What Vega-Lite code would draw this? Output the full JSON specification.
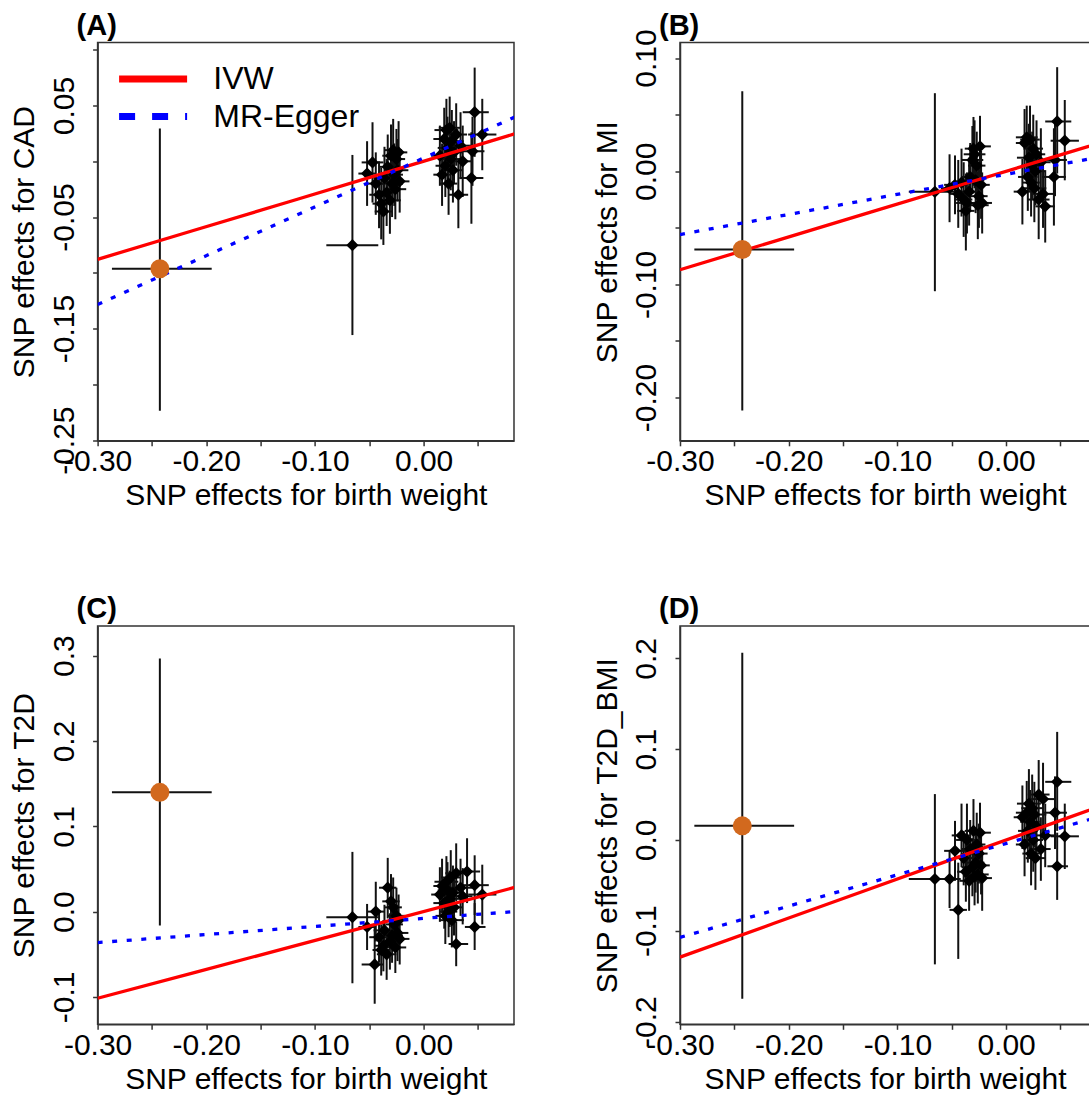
{
  "$schema": "https://vega.github.io/schema/vega-lite/v6.json",
  "padding": {"left": 8.6, "top": 10.5, "right": 0, "bottom": 0},
  "config": {
    "font": "Liberation Sans",
    "view": {"stroke": "#333333", "strokeWidth": 1.5},
    "axis": {"grid": false, "domainColor": "#333333", "domainWidth": 1.5, "tickColor": "#333333", "tickWidth": 1.5, "tickSize": 5, "labelFont": "Liberation Sans", "labelFontSize": 30, "labelColor": "#000000", "titleFont": "Liberation Sans", "titleFontSize": 30, "titleFontWeight": "normal", "titleColor": "#000000", "labelOverlap": false, "labelFlush": false},
    "axisX": {"labelPadding": 1, "titlePadding": 4},
    "axisY": {"labelAngle": -90, "labelAlign": "center", "labelBaseline": "bottom", "labelPadding": 13, "titlePadding": 9.7, "titleBaseline": "bottom"},
    "title": {"anchor": "start", "frame": "group", "fontSize": 29, "fontWeight": "bold", "font": "Liberation Sans", "color": "#000000", "dx": -21, "offset": 1.6, "baseline": "alphabetic"}
  },
  "columns": 2,
  "bounds": "flush",
  "spacing": {"row": 184.5, "column": 165.4},
  "resolve": {"scale": {"color": "independent", "strokeDash": "independent"}},
  "datasets": {
    "A": [
      {"x": -0.0655, "xl": -0.0895, "xh": -0.0417, "y": -0.0752, "yl": -0.1558, "yh": 0.0057, "o": 0},
      {"x": -0.052, "xl": -0.060, "xh": -0.044, "y": -0.011, "yl": -0.040, "yh": 0.018, "o": 0},
      {"x": -0.047, "xl": -0.057, "xh": -0.037, "y": -0.001, "yl": -0.037, "yh": 0.035, "o": 0},
      {"x": -0.044, "xl": -0.052, "xh": -0.036, "y": -0.020, "yl": -0.048, "yh": 0.008, "o": 0},
      {"x": -0.041, "xl": -0.050, "xh": -0.032, "y": -0.030, "yl": -0.060, "yh": 0.000, "o": 0},
      {"x": -0.039, "xl": -0.047, "xh": -0.031, "y": -0.038, "yl": -0.070, "yh": -0.006, "o": 0},
      {"x": -0.037, "xl": -0.045, "xh": -0.029, "y": -0.045, "yl": -0.075, "yh": -0.015, "o": 0},
      {"x": -0.036, "xl": -0.046, "xh": -0.026, "y": -0.015, "yl": -0.043, "yh": 0.013, "o": 0},
      {"x": -0.034, "xl": -0.043, "xh": -0.025, "y": -0.028, "yl": -0.058, "yh": 0.002, "o": 0},
      {"x": -0.033, "xl": -0.041, "xh": -0.025, "y": -0.005, "yl": -0.034, "yh": 0.024, "o": 0},
      {"x": -0.031, "xl": -0.041, "xh": -0.021, "y": -0.035, "yl": -0.065, "yh": -0.005, "o": 0},
      {"x": -0.030, "xl": -0.038, "xh": -0.022, "y": 0.005, "yl": -0.023, "yh": 0.033, "o": 0},
      {"x": -0.029, "xl": -0.039, "xh": -0.019, "y": -0.020, "yl": -0.050, "yh": 0.010, "o": 0},
      {"x": -0.028, "xl": -0.036, "xh": -0.020, "y": 0.010, "yl": -0.018, "yh": 0.038, "o": 0},
      {"x": -0.027, "xl": -0.035, "xh": -0.019, "y": -0.012, "yl": -0.040, "yh": 0.016, "o": 0},
      {"x": -0.026, "xl": -0.036, "xh": -0.016, "y": -0.025, "yl": -0.052, "yh": 0.002, "o": 0},
      {"x": -0.025, "xl": -0.033, "xh": -0.017, "y": 0.002, "yl": -0.025, "yh": 0.029, "o": 0},
      {"x": -0.024, "xl": -0.034, "xh": -0.014, "y": -0.008, "yl": -0.036, "yh": 0.020, "o": 0},
      {"x": -0.023, "xl": -0.031, "xh": -0.015, "y": 0.008, "yl": -0.020, "yh": 0.036, "o": 0},
      {"x": -0.022, "xl": -0.031, "xh": -0.013, "y": -0.018, "yl": -0.046, "yh": 0.010, "o": 0},
      {"x": 0.015, "xl": 0.007, "xh": 0.023, "y": 0.005, "yl": -0.022, "yh": 0.032, "o": 0},
      {"x": 0.017, "xl": 0.009, "xh": 0.025, "y": -0.012, "yl": -0.040, "yh": 0.016, "o": 0},
      {"x": 0.019, "xl": 0.009, "xh": 0.029, "y": 0.020, "yl": -0.008, "yh": 0.048, "o": 0},
      {"x": 0.020, "xl": 0.011, "xh": 0.029, "y": -0.004, "yl": -0.032, "yh": 0.024, "o": 0},
      {"x": 0.021, "xl": 0.010, "xh": 0.032, "y": 0.028, "yl": 0.000, "yh": 0.056, "o": 0},
      {"x": 0.022, "xl": 0.013, "xh": 0.031, "y": 0.012, "yl": -0.016, "yh": 0.040, "o": 0},
      {"x": 0.023, "xl": 0.015, "xh": 0.031, "y": -0.020, "yl": -0.048, "yh": 0.008, "o": 0},
      {"x": 0.024, "xl": 0.014, "xh": 0.034, "y": 0.030, "yl": 0.002, "yh": 0.058, "o": 0},
      {"x": 0.025, "xl": 0.016, "xh": 0.034, "y": 0.002, "yl": -0.026, "yh": 0.030, "o": 0},
      {"x": 0.026, "xl": 0.015, "xh": 0.037, "y": 0.018, "yl": -0.010, "yh": 0.046, "o": 0},
      {"x": 0.027, "xl": 0.018, "xh": 0.036, "y": -0.008, "yl": -0.037, "yh": 0.021, "o": 0},
      {"x": 0.028, "xl": 0.020, "xh": 0.036, "y": 0.008, "yl": -0.020, "yh": 0.036, "o": 0},
      {"x": 0.030, "xl": 0.020, "xh": 0.040, "y": 0.024, "yl": -0.004, "yh": 0.052, "o": 0},
      {"x": 0.032, "xl": 0.023, "xh": 0.041, "y": -0.030, "yl": -0.060, "yh": 0.000, "o": 0},
      {"x": 0.034, "xl": 0.023, "xh": 0.045, "y": 0.014, "yl": -0.016, "yh": 0.044, "o": 0},
      {"x": 0.036, "xl": 0.027, "xh": 0.045, "y": 0.000, "yl": -0.032, "yh": 0.032, "o": 0},
      {"x": 0.045, "xl": 0.034, "xh": 0.056, "y": 0.009, "yl": -0.022, "yh": 0.040, "o": 0},
      {"x": 0.047, "xl": 0.036, "xh": 0.060, "y": 0.044, "yl": 0.004, "yh": 0.084, "o": 0},
      {"x": 0.054, "xl": 0.041, "xh": 0.067, "y": 0.024, "yl": -0.008, "yh": 0.056, "o": 0},
      {"x": 0.044, "xl": 0.033, "xh": 0.055, "y": -0.015, "yl": -0.056, "yh": 0.026, "o": 0},
      {"x": -0.2427, "xl": -0.2868, "xh": -0.195, "y": -0.0964, "yl": -0.2236, "yh": 0.0294, "o": 1}
    ],
    "B": [
      {"x": -0.0655, "xl": -0.0895, "xh": -0.0417, "y": -0.0182, "yl": -0.106, "yh": 0.069, "o": 0},
      {"x": -0.052, "xl": -0.060, "xh": -0.044, "y": -0.015, "yl": -0.045, "yh": 0.015, "o": 0},
      {"x": -0.047, "xl": -0.057, "xh": -0.037, "y": -0.012, "yl": -0.038, "yh": 0.014, "o": 0},
      {"x": -0.044, "xl": -0.052, "xh": -0.036, "y": -0.020, "yl": -0.050, "yh": 0.010, "o": 0},
      {"x": -0.041, "xl": -0.050, "xh": -0.032, "y": -0.010, "yl": -0.040, "yh": 0.020, "o": 0},
      {"x": -0.039, "xl": -0.047, "xh": -0.031, "y": -0.025, "yl": -0.058, "yh": 0.008, "o": 0},
      {"x": -0.037, "xl": -0.045, "xh": -0.029, "y": -0.035, "yl": -0.070, "yh": -0.002, "o": 0},
      {"x": -0.036, "xl": -0.046, "xh": -0.026, "y": -0.028, "yl": -0.055, "yh": -0.001, "o": 0},
      {"x": -0.034, "xl": -0.043, "xh": -0.025, "y": -0.018, "yl": -0.048, "yh": 0.012, "o": 0},
      {"x": -0.033, "xl": -0.041, "xh": -0.025, "y": -0.005, "yl": -0.035, "yh": 0.025, "o": 0},
      {"x": -0.031, "xl": -0.041, "xh": -0.021, "y": 0.010, "yl": -0.020, "yh": 0.040, "o": 0},
      {"x": -0.030, "xl": -0.038, "xh": -0.022, "y": 0.020, "yl": -0.008, "yh": 0.048, "o": 0},
      {"x": -0.029, "xl": -0.039, "xh": -0.019, "y": 0.015, "yl": -0.015, "yh": 0.045, "o": 0},
      {"x": -0.028, "xl": -0.036, "xh": -0.020, "y": -0.008, "yl": -0.037, "yh": 0.021, "o": 0},
      {"x": -0.027, "xl": -0.035, "xh": -0.019, "y": 0.005, "yl": -0.025, "yh": 0.035, "o": 0},
      {"x": -0.026, "xl": -0.036, "xh": -0.016, "y": -0.030, "yl": -0.060, "yh": 0.000, "o": 0},
      {"x": -0.025, "xl": -0.033, "xh": -0.017, "y": -0.022, "yl": -0.050, "yh": 0.006, "o": 0},
      {"x": -0.024, "xl": -0.034, "xh": -0.014, "y": 0.022, "yl": -0.005, "yh": 0.049, "o": 0},
      {"x": -0.023, "xl": -0.031, "xh": -0.015, "y": -0.012, "yl": -0.042, "yh": 0.018, "o": 0},
      {"x": -0.022, "xl": -0.031, "xh": -0.013, "y": -0.028, "yl": -0.055, "yh": -0.001, "o": 0},
      {"x": 0.015, "xl": 0.007, "xh": 0.023, "y": -0.018, "yl": -0.047, "yh": 0.011, "o": 0},
      {"x": 0.017, "xl": 0.009, "xh": 0.025, "y": 0.025, "yl": -0.005, "yh": 0.055, "o": 0},
      {"x": 0.019, "xl": 0.009, "xh": 0.029, "y": 0.030, "yl": 0.002, "yh": 0.058, "o": 0},
      {"x": 0.020, "xl": 0.011, "xh": 0.029, "y": -0.005, "yl": -0.035, "yh": 0.025, "o": 0},
      {"x": 0.021, "xl": 0.010, "xh": 0.032, "y": 0.012, "yl": -0.018, "yh": 0.042, "o": 0},
      {"x": 0.022, "xl": 0.013, "xh": 0.031, "y": 0.028, "yl": -0.002, "yh": 0.058, "o": 0},
      {"x": 0.023, "xl": 0.015, "xh": 0.031, "y": -0.010, "yl": -0.040, "yh": 0.020, "o": 0},
      {"x": 0.024, "xl": 0.014, "xh": 0.034, "y": 0.005, "yl": -0.025, "yh": 0.035, "o": 0},
      {"x": 0.025, "xl": 0.016, "xh": 0.034, "y": 0.020, "yl": -0.010, "yh": 0.050, "o": 0},
      {"x": 0.026, "xl": 0.015, "xh": 0.037, "y": -0.015, "yl": -0.045, "yh": 0.015, "o": 0},
      {"x": 0.027, "xl": 0.018, "xh": 0.036, "y": 0.000, "yl": -0.030, "yh": 0.030, "o": 0},
      {"x": 0.028, "xl": 0.020, "xh": 0.036, "y": 0.015, "yl": -0.015, "yh": 0.045, "o": 0},
      {"x": 0.030, "xl": 0.020, "xh": 0.040, "y": -0.025, "yl": -0.060, "yh": 0.010, "o": 0},
      {"x": 0.032, "xl": 0.023, "xh": 0.041, "y": 0.008, "yl": -0.022, "yh": 0.038, "o": 0},
      {"x": 0.034, "xl": 0.023, "xh": 0.045, "y": -0.020, "yl": -0.050, "yh": 0.010, "o": 0},
      {"x": 0.036, "xl": 0.027, "xh": 0.045, "y": -0.031, "yl": -0.063, "yh": 0.001, "o": 0},
      {"x": 0.045, "xl": 0.034, "xh": 0.056, "y": 0.010, "yl": -0.022, "yh": 0.042, "o": 0},
      {"x": 0.047, "xl": 0.036, "xh": 0.060, "y": 0.044, "yl": -0.002, "yh": 0.092, "o": 0},
      {"x": 0.054, "xl": 0.041, "xh": 0.067, "y": 0.027, "yl": -0.008, "yh": 0.063, "o": 0},
      {"x": 0.044, "xl": 0.033, "xh": 0.055, "y": -0.005, "yl": -0.048, "yh": 0.038, "o": 0},
      {"x": -0.2427, "xl": -0.2868, "xh": -0.195, "y": -0.0692, "yl": -0.2114, "yh": 0.0707, "o": 1}
    ],
    "C": [
      {"x": -0.0655, "xl": -0.0895, "xh": -0.0417, "y": -0.0066, "yl": -0.084, "yh": 0.070, "o": 0},
      {"x": -0.052, "xl": -0.060, "xh": -0.044, "y": -0.018, "yl": -0.045, "yh": 0.009, "o": 0},
      {"x": -0.045, "xl": -0.057, "xh": -0.037, "y": -0.062, "yl": -0.108, "yh": -0.018, "o": 0},
      {"x": -0.044, "xl": -0.052, "xh": -0.036, "y": 0.000, "yl": -0.035, "yh": 0.035, "o": 0},
      {"x": -0.041, "xl": -0.050, "xh": -0.032, "y": -0.030, "yl": -0.060, "yh": 0.000, "o": 0},
      {"x": -0.039, "xl": -0.047, "xh": -0.031, "y": -0.045, "yl": -0.075, "yh": -0.015, "o": 0},
      {"x": -0.037, "xl": -0.045, "xh": -0.029, "y": -0.040, "yl": -0.070, "yh": -0.010, "o": 0},
      {"x": -0.036, "xl": -0.046, "xh": -0.026, "y": -0.022, "yl": -0.052, "yh": 0.008, "o": 0},
      {"x": -0.034, "xl": -0.043, "xh": -0.025, "y": -0.050, "yl": -0.080, "yh": -0.020, "o": 0},
      {"x": -0.033, "xl": -0.041, "xh": -0.025, "y": 0.028, "yl": -0.008, "yh": 0.063, "o": 0},
      {"x": -0.031, "xl": -0.041, "xh": -0.021, "y": -0.035, "yl": -0.068, "yh": -0.002, "o": 0},
      {"x": -0.030, "xl": -0.038, "xh": -0.022, "y": 0.012, "yl": -0.020, "yh": 0.044, "o": 0},
      {"x": -0.029, "xl": -0.039, "xh": -0.019, "y": -0.028, "yl": -0.060, "yh": 0.004, "o": 0},
      {"x": -0.028, "xl": -0.036, "xh": -0.020, "y": 0.005, "yl": -0.030, "yh": 0.040, "o": 0},
      {"x": -0.027, "xl": -0.035, "xh": -0.019, "y": -0.015, "yl": -0.045, "yh": 0.015, "o": 0},
      {"x": -0.026, "xl": -0.036, "xh": -0.016, "y": -0.042, "yl": -0.072, "yh": -0.012, "o": 0},
      {"x": -0.025, "xl": -0.033, "xh": -0.017, "y": -0.005, "yl": -0.038, "yh": 0.028, "o": 0},
      {"x": -0.024, "xl": -0.034, "xh": -0.014, "y": -0.025, "yl": -0.058, "yh": 0.008, "o": 0},
      {"x": -0.023, "xl": -0.031, "xh": -0.015, "y": -0.010, "yl": -0.040, "yh": 0.020, "o": 0},
      {"x": -0.022, "xl": -0.031, "xh": -0.013, "y": -0.032, "yl": -0.062, "yh": -0.002, "o": 0},
      {"x": 0.015, "xl": 0.007, "xh": 0.023, "y": 0.020, "yl": -0.012, "yh": 0.052, "o": 0},
      {"x": 0.017, "xl": 0.009, "xh": 0.025, "y": 0.030, "yl": -0.002, "yh": 0.062, "o": 0},
      {"x": 0.019, "xl": 0.009, "xh": 0.029, "y": 0.010, "yl": -0.020, "yh": 0.040, "o": 0},
      {"x": 0.020, "xl": 0.011, "xh": 0.029, "y": -0.005, "yl": -0.038, "yh": 0.028, "o": 0},
      {"x": 0.021, "xl": 0.010, "xh": 0.032, "y": 0.035, "yl": 0.005, "yh": 0.065, "o": 0},
      {"x": 0.022, "xl": 0.013, "xh": 0.031, "y": 0.025, "yl": -0.008, "yh": 0.058, "o": 0},
      {"x": 0.023, "xl": 0.015, "xh": 0.031, "y": 0.000, "yl": -0.030, "yh": 0.030, "o": 0},
      {"x": 0.024, "xl": 0.014, "xh": 0.034, "y": 0.015, "yl": -0.018, "yh": 0.048, "o": 0},
      {"x": 0.025, "xl": 0.016, "xh": 0.034, "y": 0.040, "yl": 0.008, "yh": 0.072, "o": 0},
      {"x": 0.026, "xl": 0.015, "xh": 0.037, "y": -0.010, "yl": -0.042, "yh": 0.022, "o": 0},
      {"x": 0.027, "xl": 0.018, "xh": 0.036, "y": 0.022, "yl": -0.010, "yh": 0.054, "o": 0},
      {"x": 0.028, "xl": 0.020, "xh": 0.036, "y": 0.005, "yl": -0.028, "yh": 0.038, "o": 0},
      {"x": 0.030, "xl": 0.020, "xh": 0.040, "y": 0.045, "yl": 0.012, "yh": 0.080, "o": 0},
      {"x": 0.030, "xl": 0.023, "xh": 0.041, "y": -0.038, "yl": -0.064, "yh": -0.012, "o": 0},
      {"x": 0.034, "xl": 0.023, "xh": 0.045, "y": 0.028, "yl": -0.005, "yh": 0.062, "o": 0},
      {"x": 0.036, "xl": 0.027, "xh": 0.045, "y": 0.018, "yl": -0.015, "yh": 0.051, "o": 0},
      {"x": 0.040, "xl": 0.030, "xh": 0.052, "y": 0.047, "yl": 0.010, "yh": 0.086, "o": 0},
      {"x": 0.047, "xl": 0.036, "xh": 0.060, "y": 0.031, "yl": -0.004, "yh": 0.066, "o": 0},
      {"x": 0.054, "xl": 0.041, "xh": 0.067, "y": 0.020, "yl": -0.015, "yh": 0.055, "o": 0},
      {"x": 0.047, "xl": 0.038, "xh": 0.057, "y": -0.018, "yl": -0.045, "yh": 0.010, "o": 0},
      {"x": -0.2427, "xl": -0.2868, "xh": -0.195, "y": 0.1398, "yl": -0.0164, "yh": 0.2968, "o": 1}
    ],
    "D": [
      {"x": -0.0655, "xl": -0.0895, "xh": -0.0417, "y": -0.043, "yl": -0.137, "yh": 0.0505, "o": 0},
      {"x": -0.052, "xl": -0.060, "xh": -0.044, "y": -0.043, "yl": -0.075, "yh": -0.011, "o": 0},
      {"x": -0.047, "xl": -0.057, "xh": -0.037, "y": -0.012, "yl": -0.045, "yh": 0.021, "o": 0},
      {"x": -0.044, "xl": -0.052, "xh": -0.036, "y": -0.077, "yl": -0.131, "yh": -0.025, "o": 0},
      {"x": -0.041, "xl": -0.050, "xh": -0.032, "y": 0.005, "yl": -0.030, "yh": 0.040, "o": 0},
      {"x": -0.039, "xl": -0.047, "xh": -0.031, "y": -0.020, "yl": -0.050, "yh": 0.010, "o": 0},
      {"x": -0.037, "xl": -0.045, "xh": -0.029, "y": -0.035, "yl": -0.068, "yh": -0.002, "o": 0},
      {"x": -0.036, "xl": -0.046, "xh": -0.026, "y": 0.000, "yl": -0.040, "yh": 0.040, "o": 0},
      {"x": -0.034, "xl": -0.043, "xh": -0.025, "y": -0.045, "yl": -0.078, "yh": -0.012, "o": 0},
      {"x": -0.033, "xl": -0.041, "xh": -0.025, "y": -0.010, "yl": -0.042, "yh": 0.022, "o": 0},
      {"x": -0.031, "xl": -0.041, "xh": -0.021, "y": -0.030, "yl": -0.062, "yh": 0.002, "o": 0},
      {"x": -0.030, "xl": -0.038, "xh": -0.022, "y": 0.010, "yl": -0.025, "yh": 0.045, "o": 0},
      {"x": -0.029, "xl": -0.039, "xh": -0.019, "y": -0.040, "yl": -0.072, "yh": -0.008, "o": 0},
      {"x": -0.028, "xl": -0.036, "xh": -0.020, "y": -0.025, "yl": -0.058, "yh": 0.008, "o": 0},
      {"x": -0.027, "xl": -0.035, "xh": -0.019, "y": -0.005, "yl": -0.040, "yh": 0.030, "o": 0},
      {"x": -0.026, "xl": -0.036, "xh": -0.016, "y": -0.038, "yl": -0.070, "yh": -0.006, "o": 0},
      {"x": -0.025, "xl": -0.033, "xh": -0.017, "y": -0.015, "yl": -0.048, "yh": 0.018, "o": 0},
      {"x": -0.024, "xl": -0.034, "xh": -0.014, "y": 0.008, "yl": -0.025, "yh": 0.041, "o": 0},
      {"x": -0.023, "xl": -0.031, "xh": -0.015, "y": -0.028, "yl": -0.060, "yh": 0.004, "o": 0},
      {"x": -0.022, "xl": -0.031, "xh": -0.013, "y": -0.042, "yl": -0.078, "yh": -0.006, "o": 0},
      {"x": 0.015, "xl": 0.007, "xh": 0.023, "y": 0.025, "yl": -0.010, "yh": 0.060, "o": 0},
      {"x": 0.017, "xl": 0.009, "xh": 0.025, "y": -0.005, "yl": -0.040, "yh": 0.030, "o": 0},
      {"x": 0.019, "xl": 0.009, "xh": 0.029, "y": 0.030, "yl": -0.005, "yh": 0.065, "o": 0},
      {"x": 0.020, "xl": 0.011, "xh": 0.029, "y": 0.010, "yl": -0.025, "yh": 0.045, "o": 0},
      {"x": 0.021, "xl": 0.010, "xh": 0.032, "y": 0.040, "yl": 0.002, "yh": 0.078, "o": 0},
      {"x": 0.022, "xl": 0.013, "xh": 0.031, "y": 0.020, "yl": -0.015, "yh": 0.055, "o": 0},
      {"x": 0.023, "xl": 0.015, "xh": 0.031, "y": -0.015, "yl": -0.050, "yh": 0.020, "o": 0},
      {"x": 0.024, "xl": 0.014, "xh": 0.034, "y": 0.035, "yl": -0.002, "yh": 0.072, "o": 0},
      {"x": 0.025, "xl": 0.016, "xh": 0.034, "y": 0.000, "yl": -0.035, "yh": 0.035, "o": 0},
      {"x": 0.026, "xl": 0.015, "xh": 0.037, "y": 0.028, "yl": -0.008, "yh": 0.064, "o": 0},
      {"x": 0.027, "xl": 0.018, "xh": 0.036, "y": -0.020, "yl": -0.055, "yh": 0.015, "o": 0},
      {"x": 0.028, "xl": 0.020, "xh": 0.036, "y": 0.015, "yl": -0.020, "yh": 0.050, "o": 0},
      {"x": 0.030, "xl": 0.020, "xh": 0.040, "y": 0.050, "yl": 0.012, "yh": 0.088, "o": 0},
      {"x": 0.032, "xl": 0.023, "xh": 0.041, "y": -0.010, "yl": -0.045, "yh": 0.025, "o": 0},
      {"x": 0.034, "xl": 0.023, "xh": 0.045, "y": 0.045, "yl": 0.005, "yh": 0.085, "o": 0},
      {"x": 0.036, "xl": 0.027, "xh": 0.045, "y": 0.005, "yl": -0.030, "yh": 0.040, "o": 0},
      {"x": 0.045, "xl": 0.034, "xh": 0.056, "y": 0.030, "yl": -0.010, "yh": 0.070, "o": 0},
      {"x": 0.047, "xl": 0.036, "xh": 0.060, "y": 0.064, "yl": 0.010, "yh": 0.119, "o": 0},
      {"x": 0.054, "xl": 0.041, "xh": 0.067, "y": 0.004, "yl": -0.032, "yh": 0.040, "o": 0},
      {"x": 0.047, "xl": 0.038, "xh": 0.057, "y": -0.029, "yl": -0.066, "yh": 0.008, "o": 0},
      {"x": -0.2427, "xl": -0.2868, "xh": -0.195, "y": 0.0155, "yl": -0.1749, "yh": 0.2062, "o": 1}
    ],
    "LA": [
      {"method": "IVW", "x": -0.30, "y": -0.0879},
      {"method": "IVW", "x": 0.09, "y": 0.0264},
      {"method": "MR-Egger", "x": -0.30, "y": -0.1284},
      {"method": "MR-Egger", "x": 0.09, "y": 0.0423}
    ],
    "LB": [
      {"method": "IVW", "x": -0.30, "y": -0.087},
      {"method": "IVW", "x": 0.09, "y": 0.0261},
      {"method": "MR-Egger", "x": -0.30, "y": -0.0559},
      {"method": "MR-Egger", "x": 0.09, "y": 0.0133}
    ],
    "LC": [
      {"method": "IVW", "x": -0.30, "y": -0.1016},
      {"method": "IVW", "x": 0.09, "y": 0.0305},
      {"method": "MR-Egger", "x": -0.30, "y": -0.0363},
      {"method": "MR-Egger", "x": 0.09, "y": 0.0006}
    ],
    "LD": [
      {"method": "IVW", "x": -0.30, "y": -0.129},
      {"method": "IVW", "x": 0.09, "y": 0.0387},
      {"method": "MR-Egger", "x": -0.30, "y": -0.1073},
      {"method": "MR-Egger", "x": 0.09, "y": 0.0271}
    ]
  },
  "concat": [
    {
      "title": {"text": "(A)"},
      "width": 416.4,
      "height": 398.3,
      "resolve": {"scale": {"color": "independent", "strokeDash": "independent"}},
      "layer": [
        {"mark": {"type": "rule", "color": "#E23A8E", "strokeDash": [6, 4], "strokeWidth": 1.5},
         "encoding": {"y": {"datum": 0, "type": "quantitative", "scale": {"domain": [-0.2506, 0.1065], "nice": false, "zero": false}, "axis": {"title": "SNP effects for CAD", "values": [-0.25, -0.2, -0.15, -0.1, -0.05, 0, 0.05, 0.1], "labelExpr": "indexof([5,-5,-15,-25], round(datum.value*100)) >= 0 ? replace(format(datum.value, '.2f'), '\u2212', '-') : ''"}}}},
        {"mark": {"type": "rule", "color": "#E23A8E", "strokeDash": [6, 4], "strokeWidth": 1.5},
         "encoding": {"x": {"datum": 0, "type": "quantitative", "scale": {"domain": [-0.30, 0.0832], "nice": false, "zero": false}, "axis": {"title": "SNP effects for birth weight", "values": [-0.3, -0.25, -0.2, -0.15, -0.1, -0.05, 0, 0.05], "labelExpr": "indexof([-30,-20,-10,0], round(datum.value*100)) >= 0 ? replace(format(datum.value, '.2f'), '\u2212', '-') : ''"}}}},
        {"data": {"name": "A"}, "mark": {"type": "rule", "color": "#111111", "strokeWidth": 2},
         "encoding": {"x": {"field": "xl", "type": "quantitative", "scale": {"domain": [-0.30, 0.0832], "nice": false, "zero": false}, "title": "SNP effects for birth weight"}, "x2": {"field": "xh"}, "y": {"field": "y", "type": "quantitative", "scale": {"domain": [-0.2506, 0.1065], "nice": false, "zero": false}, "title": "SNP effects for CAD"}}},
        {"data": {"name": "A"}, "mark": {"type": "rule", "color": "#111111", "strokeWidth": 2},
         "encoding": {"x": {"field": "x", "type": "quantitative", "scale": {"domain": [-0.30, 0.0832], "nice": false, "zero": false}, "title": "SNP effects for birth weight"}, "y": {"field": "yl", "type": "quantitative", "scale": {"domain": [-0.2506, 0.1065], "nice": false, "zero": false}, "title": "SNP effects for CAD"}, "y2": {"field": "yh"}}},
        {"data": {"name": "A"}, "transform": [{"filter": "datum.o == 0"}], "mark": {"type": "point", "shape": "diamond", "filled": true, "color": "#000000", "size": 150, "opacity": 1},
         "encoding": {"x": {"field": "x", "type": "quantitative", "scale": {"domain": [-0.30, 0.0832], "nice": false, "zero": false}, "title": "SNP effects for birth weight"}, "y": {"field": "y", "type": "quantitative", "scale": {"domain": [-0.2506, 0.1065], "nice": false, "zero": false}, "title": "SNP effects for CAD"}}},
        {"data": {"name": "LA"}, "mark": {"type": "line", "strokeWidth": 3.3, "clip": true},
         "encoding": {"x": {"field": "x", "type": "quantitative", "scale": {"domain": [-0.30, 0.0832], "nice": false, "zero": false}, "title": "SNP effects for birth weight"}, "y": {"field": "y", "type": "quantitative", "scale": {"domain": [-0.2506, 0.1065], "nice": false, "zero": false}, "title": "SNP effects for CAD"},
           "color": {"field": "method", "type": "nominal", "scale": {"domain": ["IVW", "MR-Egger"], "range": ["#FF0000", "#0000FF"]}, "legend": null},
           "strokeDash": {"field": "method", "type": "nominal", "scale": {"domain": ["IVW", "MR-Egger"], "range": [[100, 0], [5, 9.6]]}, "legend": null}}},
        {"data": {"name": "LA"}, "mark": {"type": "line", "strokeWidth": 3.3, "clip": true, "opacity": 0},
         "encoding": {"x": {"field": "x", "type": "quantitative", "scale": {"domain": [-0.30, 0.0832], "nice": false, "zero": false}, "title": "SNP effects for birth weight"}, "y": {"field": "y", "type": "quantitative", "scale": {"domain": [-0.2506, 0.1065], "nice": false, "zero": false}, "title": "SNP effects for CAD"},
           "color": {"field": "method", "type": "nominal", "scale": {"domain": ["IVW", "MR-Egger"], "range": ["#FF0000", "#0000FF"]},
             "legend": {"title": null, "orient": "none", "legendX": 35, "legendY": 16.1, "direction": "vertical", "symbolType": "M-2,0H2", "symbolSize": 1156, "symbolStrokeWidth": 7, "symbolOpacity": 1, "labelFont": "Liberation Sans", "labelFontSize": 32, "labelColor": "#000000", "labelOffset": 39.7, "rowPadding": 0.5}},
           "strokeDash": {"field": "method", "type": "nominal", "scale": {"domain": ["IVW", "MR-Egger"], "range": [[100, 0], [16, 17]]},
             "legend": {"title": null, "orient": "none", "legendX": 35, "legendY": 16.1, "direction": "vertical", "symbolType": "M-2,0H2", "symbolSize": 1156, "symbolStrokeWidth": 7, "symbolOpacity": 1, "labelFont": "Liberation Sans", "labelFontSize": 32, "labelColor": "#000000", "labelOffset": 39.7, "rowPadding": 0.5}}}},
        {"data": {"name": "A"}, "transform": [{"filter": "datum.o == 1"}], "mark": {"type": "point", "shape": "circle", "filled": true, "color": "#D2691E", "size": 361, "opacity": 1},
         "encoding": {"x": {"field": "x", "type": "quantitative", "scale": {"domain": [-0.30, 0.0832], "nice": false, "zero": false}, "title": "SNP effects for birth weight"}, "y": {"field": "y", "type": "quantitative", "scale": {"domain": [-0.2506, 0.1065], "nice": false, "zero": false}, "title": "SNP effects for CAD"}}}
      ]
    },
    {
      "title": {"text": "(B)", "dy": 14},
      "width": 410,
      "height": 398.3,
      "layer": [
        {"mark": {"type": "rule", "color": "#E23A8E", "strokeDash": [6, 4], "strokeWidth": 1.5},
         "encoding": {"y": {"datum": 0, "type": "quantitative", "scale": {"domain": [-0.2382, 0.1138], "nice": false, "zero": false}, "axis": {"title": "SNP effects for MI", "values": [-0.2, -0.15, -0.1, -0.05, 0, 0.05, 0.1], "labelExpr": "indexof([10,0,-10,-20], round(datum.value*100)) >= 0 ? replace(format(datum.value, '.2f'), '\u2212', '-') : ''"}}}},
        {"mark": {"type": "rule", "color": "#E23A8E", "strokeDash": [6, 4], "strokeWidth": 1.5},
         "encoding": {"x": {"datum": 0, "type": "quantitative", "scale": {"domain": [-0.30, 0.0772], "nice": false, "zero": false}, "axis": {"title": "SNP effects for birth weight", "values": [-0.3, -0.25, -0.2, -0.15, -0.1, -0.05, 0, 0.05], "labelExpr": "indexof([-30,-20,-10,0], round(datum.value*100)) >= 0 ? replace(format(datum.value, '.2f'), '\u2212', '-') : ''"}}}},
        {"data": {"name": "B"}, "mark": {"type": "rule", "color": "#111111", "strokeWidth": 2},
         "encoding": {"x": {"field": "xl", "type": "quantitative", "scale": {"domain": [-0.30, 0.0772], "nice": false, "zero": false}, "title": "SNP effects for birth weight"}, "x2": {"field": "xh"}, "y": {"field": "y", "type": "quantitative", "scale": {"domain": [-0.2382, 0.1138], "nice": false, "zero": false}, "title": "SNP effects for MI"}}},
        {"data": {"name": "B"}, "mark": {"type": "rule", "color": "#111111", "strokeWidth": 2},
         "encoding": {"x": {"field": "x", "type": "quantitative", "scale": {"domain": [-0.30, 0.0772], "nice": false, "zero": false}, "title": "SNP effects for birth weight"}, "y": {"field": "yl", "type": "quantitative", "scale": {"domain": [-0.2382, 0.1138], "nice": false, "zero": false}, "title": "SNP effects for MI"}, "y2": {"field": "yh"}}},
        {"data": {"name": "B"}, "transform": [{"filter": "datum.o == 0"}], "mark": {"type": "point", "shape": "diamond", "filled": true, "color": "#000000", "size": 150, "opacity": 1},
         "encoding": {"x": {"field": "x", "type": "quantitative", "scale": {"domain": [-0.30, 0.0772], "nice": false, "zero": false}, "title": "SNP effects for birth weight"}, "y": {"field": "y", "type": "quantitative", "scale": {"domain": [-0.2382, 0.1138], "nice": false, "zero": false}, "title": "SNP effects for MI"}}},
        {"data": {"name": "LB"}, "mark": {"type": "line", "strokeWidth": 3.3, "clip": true},
         "encoding": {"x": {"field": "x", "type": "quantitative", "scale": {"domain": [-0.30, 0.0772], "nice": false, "zero": false}, "title": "SNP effects for birth weight"}, "y": {"field": "y", "type": "quantitative", "scale": {"domain": [-0.2382, 0.1138], "nice": false, "zero": false}, "title": "SNP effects for MI"},
           "color": {"field": "method", "type": "nominal", "scale": {"domain": ["IVW", "MR-Egger"], "range": ["#FF0000", "#0000FF"]}, "legend": null},
           "strokeDash": {"field": "method", "type": "nominal", "scale": {"domain": ["IVW", "MR-Egger"], "range": [[100, 0], [5, 9.6]]}, "legend": null}}},
        {"data": {"name": "B"}, "transform": [{"filter": "datum.o == 1"}], "mark": {"type": "point", "shape": "circle", "filled": true, "color": "#D2691E", "size": 361, "opacity": 1},
         "encoding": {"x": {"field": "x", "type": "quantitative", "scale": {"domain": [-0.30, 0.0772], "nice": false, "zero": false}, "title": "SNP effects for birth weight"}, "y": {"field": "y", "type": "quantitative", "scale": {"domain": [-0.2382, 0.1138], "nice": false, "zero": false}, "title": "SNP effects for MI"}}}
      ]
    },
    {
      "title": {"text": "(C)"},
      "width": 416.4,
      "height": 398.3,
      "layer": [
        {"mark": {"type": "rule", "color": "#E23A8E", "strokeDash": [6, 4], "strokeWidth": 1.5},
         "encoding": {"y": {"datum": 0, "type": "quantitative", "scale": {"domain": [-0.1321, 0.3348], "nice": false, "zero": false}, "axis": {"title": "SNP effects for T2D", "values": [-0.1, 0, 0.1, 0.2, 0.3], "labelExpr": "replace(format(datum.value, '.1f'), '\u2212', '-')"}}}},
        {"mark": {"type": "rule", "color": "#E23A8E", "strokeDash": [6, 4], "strokeWidth": 1.5},
         "encoding": {"x": {"datum": 0, "type": "quantitative", "scale": {"domain": [-0.30, 0.0832], "nice": false, "zero": false}, "axis": {"title": "SNP effects for birth weight", "values": [-0.3, -0.25, -0.2, -0.15, -0.1, -0.05, 0, 0.05], "labelExpr": "indexof([-30,-20,-10,0], round(datum.value*100)) >= 0 ? replace(format(datum.value, '.2f'), '\u2212', '-') : ''"}}}},
        {"data": {"name": "C"}, "mark": {"type": "rule", "color": "#111111", "strokeWidth": 2},
         "encoding": {"x": {"field": "xl", "type": "quantitative", "scale": {"domain": [-0.30, 0.0832], "nice": false, "zero": false}, "title": "SNP effects for birth weight"}, "x2": {"field": "xh"}, "y": {"field": "y", "type": "quantitative", "scale": {"domain": [-0.1321, 0.3348], "nice": false, "zero": false}, "title": "SNP effects for T2D"}}},
        {"data": {"name": "C"}, "mark": {"type": "rule", "color": "#111111", "strokeWidth": 2},
         "encoding": {"x": {"field": "x", "type": "quantitative", "scale": {"domain": [-0.30, 0.0832], "nice": false, "zero": false}, "title": "SNP effects for birth weight"}, "y": {"field": "yl", "type": "quantitative", "scale": {"domain": [-0.1321, 0.3348], "nice": false, "zero": false}, "title": "SNP effects for T2D"}, "y2": {"field": "yh"}}},
        {"data": {"name": "C"}, "transform": [{"filter": "datum.o == 0"}], "mark": {"type": "point", "shape": "diamond", "filled": true, "color": "#000000", "size": 150, "opacity": 1},
         "encoding": {"x": {"field": "x", "type": "quantitative", "scale": {"domain": [-0.30, 0.0832], "nice": false, "zero": false}, "title": "SNP effects for birth weight"}, "y": {"field": "y", "type": "quantitative", "scale": {"domain": [-0.1321, 0.3348], "nice": false, "zero": false}, "title": "SNP effects for T2D"}}},
        {"data": {"name": "LC"}, "mark": {"type": "line", "strokeWidth": 3.3, "clip": true},
         "encoding": {"x": {"field": "x", "type": "quantitative", "scale": {"domain": [-0.30, 0.0832], "nice": false, "zero": false}, "title": "SNP effects for birth weight"}, "y": {"field": "y", "type": "quantitative", "scale": {"domain": [-0.1321, 0.3348], "nice": false, "zero": false}, "title": "SNP effects for T2D"},
           "color": {"field": "method", "type": "nominal", "scale": {"domain": ["IVW", "MR-Egger"], "range": ["#FF0000", "#0000FF"]}, "legend": null},
           "strokeDash": {"field": "method", "type": "nominal", "scale": {"domain": ["IVW", "MR-Egger"], "range": [[100, 0], [5, 9.6]]}, "legend": null}}},
        {"data": {"name": "C"}, "transform": [{"filter": "datum.o == 1"}], "mark": {"type": "point", "shape": "circle", "filled": true, "color": "#D2691E", "size": 361, "opacity": 1},
         "encoding": {"x": {"field": "x", "type": "quantitative", "scale": {"domain": [-0.30, 0.0832], "nice": false, "zero": false}, "title": "SNP effects for birth weight"}, "y": {"field": "y", "type": "quantitative", "scale": {"domain": [-0.1321, 0.3348], "nice": false, "zero": false}, "title": "SNP effects for T2D"}}}
      ]
    },
    {
      "title": {"text": "(D)"},
      "width": 410,
      "height": 398.3,
      "layer": [
        {"mark": {"type": "rule", "color": "#E23A8E", "strokeDash": [6, 4], "strokeWidth": 1.5},
         "encoding": {"y": {"datum": 0, "type": "quantitative", "scale": {"domain": [-0.203, 0.2356], "nice": false, "zero": false}, "axis": {"title": "SNP effects for T2D_BMI", "values": [-0.2, -0.1, 0, 0.1, 0.2], "labelExpr": "replace(format(datum.value, '.1f'), '\u2212', '-')"}}}},
        {"mark": {"type": "rule", "color": "#E23A8E", "strokeDash": [6, 4], "strokeWidth": 1.5},
         "encoding": {"x": {"datum": 0, "type": "quantitative", "scale": {"domain": [-0.30, 0.0772], "nice": false, "zero": false}, "axis": {"title": "SNP effects for birth weight", "values": [-0.3, -0.25, -0.2, -0.15, -0.1, -0.05, 0, 0.05], "labelExpr": "indexof([-30,-20,-10,0], round(datum.value*100)) >= 0 ? replace(format(datum.value, '.2f'), '\u2212', '-') : ''"}}}},
        {"data": {"name": "D"}, "mark": {"type": "rule", "color": "#111111", "strokeWidth": 2},
         "encoding": {"x": {"field": "xl", "type": "quantitative", "scale": {"domain": [-0.30, 0.0772], "nice": false, "zero": false}, "title": "SNP effects for birth weight"}, "x2": {"field": "xh"}, "y": {"field": "y", "type": "quantitative", "scale": {"domain": [-0.203, 0.2356], "nice": false, "zero": false}, "title": "SNP effects for T2D_BMI"}}},
        {"data": {"name": "D"}, "mark": {"type": "rule", "color": "#111111", "strokeWidth": 2},
         "encoding": {"x": {"field": "x", "type": "quantitative", "scale": {"domain": [-0.30, 0.0772], "nice": false, "zero": false}, "title": "SNP effects for birth weight"}, "y": {"field": "yl", "type": "quantitative", "scale": {"domain": [-0.203, 0.2356], "nice": false, "zero": false}, "title": "SNP effects for T2D_BMI"}, "y2": {"field": "yh"}}},
        {"data": {"name": "D"}, "transform": [{"filter": "datum.o == 0"}], "mark": {"type": "point", "shape": "diamond", "filled": true, "color": "#000000", "size": 150, "opacity": 1},
         "encoding": {"x": {"field": "x", "type": "quantitative", "scale": {"domain": [-0.30, 0.0772], "nice": false, "zero": false}, "title": "SNP effects for birth weight"}, "y": {"field": "y", "type": "quantitative", "scale": {"domain": [-0.203, 0.2356], "nice": false, "zero": false}, "title": "SNP effects for T2D_BMI"}}},
        {"data": {"name": "LD"}, "mark": {"type": "line", "strokeWidth": 3.3, "clip": true},
         "encoding": {"x": {"field": "x", "type": "quantitative", "scale": {"domain": [-0.30, 0.0772], "nice": false, "zero": false}, "title": "SNP effects for birth weight"}, "y": {"field": "y", "type": "quantitative", "scale": {"domain": [-0.203, 0.2356], "nice": false, "zero": false}, "title": "SNP effects for T2D_BMI"},
           "color": {"field": "method", "type": "nominal", "scale": {"domain": ["IVW", "MR-Egger"], "range": ["#FF0000", "#0000FF"]}, "legend": null},
           "strokeDash": {"field": "method", "type": "nominal", "scale": {"domain": ["IVW", "MR-Egger"], "range": [[100, 0], [5, 9.6]]}, "legend": null}}},
        {"data": {"name": "D"}, "transform": [{"filter": "datum.o == 1"}], "mark": {"type": "point", "shape": "circle", "filled": true, "color": "#D2691E", "size": 361, "opacity": 1},
         "encoding": {"x": {"field": "x", "type": "quantitative", "scale": {"domain": [-0.30, 0.0772], "nice": false, "zero": false}, "title": "SNP effects for birth weight"}, "y": {"field": "y", "type": "quantitative", "scale": {"domain": [-0.203, 0.2356], "nice": false, "zero": false}, "title": "SNP effects for T2D_BMI"}}}
      ]
    }
  ]
}
